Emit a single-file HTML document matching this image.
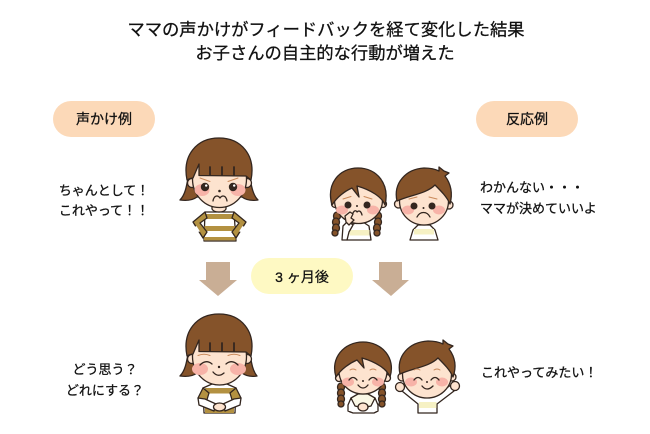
<!DOCTYPE html>
<html lang="ja">
<head>
<meta charset="utf-8">
<style>
html,body{margin:0;padding:0;background:#fff;width:650px;height:434px;overflow:hidden}
svg{display:block}
text{font-family:"Liberation Sans","Noto Sans CJK JP",sans-serif;fill:#111;stroke:#111;stroke-width:.28;text-anchor:middle}
.o{stroke:#33261f;stroke-width:1.3;stroke-linejoin:round;stroke-linecap:round}
.l{fill:none;stroke:#33261f;stroke-width:1.3;stroke-linecap:round;stroke-linejoin:round}
.b{fill:none;stroke:#c9895a;stroke-width:1;stroke-linecap:round}
.h{fill:#85532a}.s{fill:#fde3cf}.c{fill:#f7b3a8}.t{fill:#b39141}.w{fill:#fff}.y{fill:#f6f1c4}
</style>
</head>
<body>
<svg width="650" height="434" viewBox="0 0 650 434" xmlns="http://www.w3.org/2000/svg">
<rect width="650" height="434" fill="#fff"/>

<text x="326" y="35.5" font-size="17.3">ママの声かけがフィードバックを経て変化した結果</text>
<text x="325" y="59" font-size="17.3">お子さんの自主的な行動が増えた</text>

<rect x="53" y="101" width="102" height="36" rx="18" fill="#fcd9b8"/>
<text x="104" y="124" font-size="14">声かけ例</text>
<rect x="476" y="101" width="102" height="36" rx="18" fill="#fcd9b8"/>
<text x="527" y="124" font-size="14">反応例</text>

<text x="104" y="195" font-size="13">ちゃんとして！</text>
<text x="104" y="215" font-size="13">これやって！！</text>
<text x="480" y="192" font-size="13" style="text-anchor:start">わかんない・・・</text>
<text x="480" y="213" font-size="13" style="text-anchor:start">ママが決めていいよ</text>
<text x="105" y="374" font-size="13">どう思う？</text>
<text x="105" y="395" font-size="13">どれにする？</text>
<text x="481" y="377" font-size="13" style="text-anchor:start">これやってみたい！</text>

<rect x="251" y="258" width="102" height="36" rx="18" fill="#fef9c3"/>
<text x="302" y="282" font-size="14">3 ヶ月後</text>
<polygon points="206,262 230,262 230,280 237,280 218,296 199,280 206,280" fill="#c9ae95"/>
<polygon points="379,262 402,262 402,280 409,280 391,296 372,280 379,280" fill="#c9ae95"/>

<!-- Mother, top -->
<g>
<path class="o h" d="M190,168 C187,180 187,193 180,200 C187,201 193,200 197,197 L242,197 C246,200 251,201 258,200 C251,193 251,180 248,168Z"/>
<path class="o w" d="M205,212 L234,212 L236,241 H204Z"/>
<path class="t" d="M205,214 H234 V219 H205Z M204.500,226 H235 V231 H204.500Z M204,237 H235.600 V240.400 H204Z"/>
<path class="o t" d="M205,212 L193,222 L203,238 L207,232 L200,223 L207,218Z"/>
<path class="o t" d="M234,212 L246,222 L236,238 L232,232 L239,223 L232,218Z"/>
<path class="w" d="M196.500,226 L200,231.500 L197.500,232 L194.500,227Z M242.500,226 L239,231.500 L241.500,232 L244.500,227Z"/>
<path class="o s" d="M212,204 V209 C214,213 224,213 226,209 V204Z"/>
<circle class="o s" cx="192" cy="183" r="4.500"/>
<circle class="o s" cx="247" cy="183" r="4.500"/>
<ellipse class="o s" cx="219.500" cy="179" rx="27" ry="28.500"/>
<ellipse class="c" cx="202" cy="190" rx="7.500" ry="6"/>
<ellipse class="c" cx="238" cy="190" rx="7.500" ry="6"/>
<path class="o h" d="M187,180 C182,155 197,138 219,138 C241,138 256,155 251,180 L246,176 L199,175.500 L199,164 L193,178 C191,178 189,179 187,180Z"/>
<path class="l" style="stroke-width:1.800" d="M210,167 V175 M222,167 V175 M234,167 V175"/>
<circle cx="205" cy="187" r="4.200" fill="#33261f"/>
<circle cx="233" cy="187" r="4.200" fill="#33261f"/>
<circle cx="206.200" cy="185.600" r="1.200" fill="#fff"/>
<circle cx="234.200" cy="185.600" r="1.200" fill="#fff"/>
<path class="b" d="M200,178 L210,181.500 M238,178 L228,181.500"/>
<circle cx="219.500" cy="191" r="1.300" fill="#33261f"/>
<path class="l" d="M213,201 C214,195 218,195 220,198 C222,195 226,195 227,201"/>
</g>

<!-- Mother, bottom -->
<g>
<path class="o h" d="M190,344 C187,356 187,369 180,376 C187,377 193,376 197,373 L242,373 C246,376 251,377 257,376 C251,369 251,356 248,344Z"/>
<path class="o w" d="M203,388 L212,384 H227 L236,388 L235,413 H204Z"/>
<path class="t" d="M205,388 H235 V393.500 H205Z M205,403 H234 V413 H205Z"/>
<path class="o t" d="M203,388 L198,398 L206,403 L209,393Z"/>
<path class="o t" d="M236,388 L241,398 L233,403 L230,393Z"/>
<path class="o w" d="M198,398 L199,405 L214,411 L216,404 L205,399Z"/>
<path class="o w" d="M241,398 L240,405 L225,411 L223,404 L234,399Z"/>
<ellipse class="o s" cx="219.500" cy="407" rx="6" ry="4"/>
<circle class="o s" cx="192" cy="359" r="4.500"/>
<circle class="o s" cx="247" cy="359" r="4.500"/>
<ellipse class="o s" cx="219.500" cy="356.500" rx="27" ry="28.500"/>
<ellipse class="c" cx="200" cy="369" rx="8" ry="6"/>
<ellipse class="c" cx="238" cy="369" rx="8" ry="6"/>
<path class="o h" d="M187,356 C182,331 197,314 219,314 C241,314 256,331 251,356 L246,352 L199,351.500 L199,340 L193,354 C191,354 189,355 187,356Z"/>
<path class="l" style="stroke-width:1.800" d="M210,343 V351 M222,343 V351 M234,343 V351"/>
<path class="l" d="M200,365 Q206,359 212,364 M226,364 Q232,359 238,365"/>
<path class="b" d="M198,355.500 Q204,353 210,355.500 M228,355.500 Q234,353 240,355.500"/>
<circle cx="219" cy="367" r="1.200" fill="#33261f"/>
<path class="l" d="M213,372 Q218,378 224,373"/>
</g>

<!-- Girl, top -->
<g>
<g class="o h">
<ellipse cx="337" cy="216" rx="3.500" ry="4"/><ellipse cx="336" cy="222" rx="3.500" ry="4"/><ellipse cx="336" cy="228" rx="3.500" ry="4"/><ellipse cx="335" cy="233" rx="3" ry="3"/>
<ellipse cx="378" cy="216" rx="3.500" ry="4"/><ellipse cx="378" cy="222" rx="3.500" ry="4"/><ellipse cx="377" cy="228" rx="3.500" ry="4"/><ellipse cx="377" cy="233" rx="3" ry="3"/>
</g>
<path class="o w" d="M349,226 L358,222 H363 L369,226 L371,240 H347Z"/>
<rect class="y" x="349.500" y="230" width="20" height="5.500"/>
<path class="o w" d="M342,240 L343,226 L348,221 L353,225 L349,232 L347,240Z"/>
<circle class="o s" cx="335" cy="204" r="3.500"/>
<circle class="o s" cx="383" cy="204" r="3.500"/>
<ellipse class="o s" cx="358.500" cy="200" rx="24" ry="23.500"/>
<ellipse class="c" cx="342" cy="210" rx="6" ry="4.500"/>
<ellipse class="c" cx="373" cy="210" rx="6" ry="4.500"/>
<path class="o h" d="M332,205 C326,184 339,168 358,168 C377,168 390,184 385,205 C382,197 371,190 357,186 L359,197 L352,188 C345,191 337,197 332,205Z"/>
<circle cx="348" cy="205" r="3.500" fill="#33261f"/>
<circle cx="367" cy="205" r="3.500" fill="#33261f"/>
<path class="b" d="M343,199 L351,196.500 M372,199 L364,196.500"/>
<circle cx="357" cy="206" r="1" fill="#33261f"/>
<path class="l" d="M352,215 C354,210 356,210 357,212 C359,210 361,211 362,215"/>
<path class="o s" d="M346,222 L345,216 L350,212 L353,214 L351,218 L354,220 L349,225Z"/>
</g>

<!-- Boy, top -->
<g>
<path class="o w" d="M413,230 L418,225 H430 L435,230 L438,240 H410Z"/>
<rect class="y" x="414" y="229" width="20" height="5.500"/>
<circle class="o s" cx="398.500" cy="204" r="4"/>
<circle class="o s" cx="449" cy="205" r="4"/>
<ellipse class="o s" cx="424" cy="201" rx="24.500" ry="24"/>
<ellipse class="c" cx="408" cy="210" rx="6" ry="4.500"/>
<ellipse class="c" cx="439" cy="210" rx="6" ry="4.500"/>
<path class="o h" d="M397,201 C393,183 406,169 424,168 C430,168 435,169 439,171 L439,167 L444,171 L449,173 L445,176 C451,184 453,193 450,204 C447,197 441,191 435,185 C426,194 410,195 397,201Z"/>
<circle cx="414" cy="206" r="3.500" fill="#33261f"/>
<circle cx="432" cy="206" r="3.500" fill="#33261f"/>
<path class="b" d="M409,199 L417,197 M437,199 L429,197"/>
<circle cx="423.500" cy="208" r="1" fill="#33261f"/>
<path class="l" d="M417,217 C420,211 427,211 430,217"/>
</g>

<!-- Girl, bottom -->
<g>
<g class="o h">
<ellipse cx="341" cy="387" rx="3.500" ry="4"/><ellipse cx="341" cy="393" rx="3.500" ry="4"/><ellipse cx="341" cy="399" rx="3.500" ry="4"/><ellipse cx="341" cy="404" rx="3" ry="3"/>
<ellipse cx="382" cy="387" rx="3.500" ry="4"/><ellipse cx="382" cy="393" rx="3.500" ry="4"/><ellipse cx="382" cy="399" rx="3.500" ry="4"/><ellipse cx="382" cy="404" rx="3" ry="3"/>
</g>
<path class="o" fill="#fbf8e6" d="M351,398 L358,394 H368 L375,398 L376,412 H350Z"/>
<path class="o w" d="M351,398 L348,405 L348,411 L353,413 H374 L378,411 L378,405 L375,398 L371,406 L363,408 L355,406Z"/>
<ellipse class="o s" cx="363" cy="407" rx="5" ry="4"/>
<circle class="o s" cx="339" cy="378" r="3.500"/>
<circle class="o s" cx="387" cy="378" r="3.500"/>
<ellipse class="o s" cx="363" cy="371" rx="24" ry="23"/>
<ellipse class="c" cx="348" cy="382" rx="6" ry="4.500"/>
<ellipse class="c" cx="378" cy="382" rx="6" ry="4.500"/>
<path class="o h" d="M336,377 C330,358 344,342 363,342 C382,342 396,358 390,377 C387,369 376,362 362,358 L364,368 L357,360 C350,363 341,369 336,377Z"/>
<path class="l" d="M349,380 Q353,375 357,380 M369,380 Q373,375 377,380"/>
<path class="b" d="M350,370 Q353,368 356,370 M370,370 Q373,368 376,370"/>
<circle cx="363" cy="381" r="1" fill="#33261f"/>
<path class="l" d="M358,385 Q363,391 368,385"/>
</g>

<!-- Boy, bottom -->
<g>
<path class="o w" d="M418,413 V404 L402,391 L405,385 L418,394 L423,396 H432 L438,394 L451,385 L454,391 L437,404 V413Z"/>
<rect class="y" x="419" y="402" width="17.500" height="6"/>
<circle class="o s" cx="400" cy="387" r="4.500"/>
<circle class="o s" cx="455" cy="386" r="4.500"/>
<circle class="o s" cx="402" cy="377" r="4"/>
<circle class="o s" cx="452" cy="377" r="4"/>
<ellipse class="o s" cx="427" cy="374.500" rx="24.500" ry="23.500"/>
<ellipse class="c" cx="411" cy="382" rx="6" ry="4.500"/>
<ellipse class="c" cx="442" cy="382" rx="6" ry="4.500"/>
<path class="o h" d="M400,374 C396,356 409,342 428,341 C434,341 439,342 443,344 L443,340 L448,344 L453,346 L449,349 C455,357 457,366 453,377 C450,370 444,364 438,358 C429,367 413,368 400,374Z"/>
<path class="l" d="M414,380 Q418,375 422,380 M431,380 Q435,375 439,380"/>
<path class="b" d="M414,370 Q417,368 420,370 M434,370 Q437,368 440,370"/>
<circle cx="427" cy="382" r="1" fill="#33261f"/>
<path class="l" d="M422,386 Q427,392 433,386"/>
</g>
</svg>
</body>
</html>
